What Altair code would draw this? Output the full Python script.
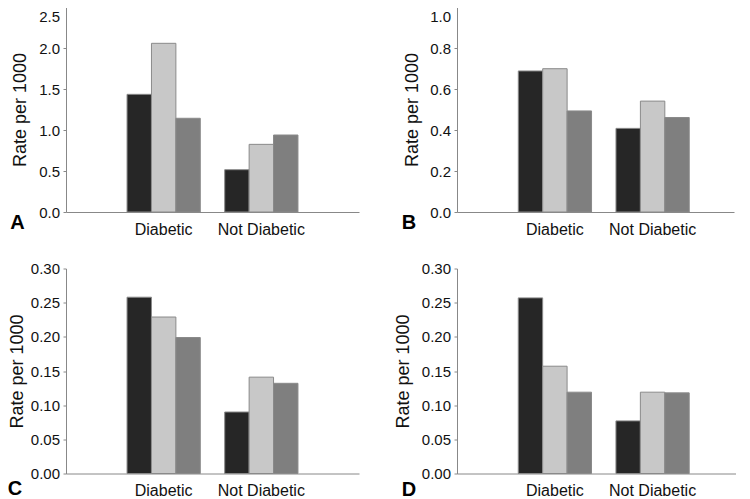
import altair as alt
import pandas as pd

FONT = "Liberation Sans"

categories = ["Diabetic", "Not Diabetic"]
series = ["Series 1", "Series 2", "Series 3"]
colors = ["#262626", "#c8c8c8", "#7f7f7f"]

# Panel A
a_diabetic = [1.435, 2.057, 1.143]
a_not = [0.516, 0.825, 0.939]
a_ticks = [0.0, 0.5, 1.0, 1.5, 2.0, 2.5]
# Panel B
b_diabetic = [0.688, 0.699, 0.493]
b_not = [0.408, 0.541, 0.461]
b_ticks = [0.0, 0.2, 0.4, 0.6, 0.8, 1.0]
# Panel C
c_diabetic = [0.258, 0.229, 0.199]
c_not = [0.090, 0.141, 0.132]
c_ticks = [0.0, 0.05, 0.10, 0.15, 0.20, 0.25, 0.30]
# Panel D
d_diabetic = [0.257, 0.157, 0.119]
d_not = [0.077, 0.119, 0.118]
d_ticks = [0.0, 0.05, 0.10, 0.15, 0.20, 0.25, 0.30]


def panel(letter, diab, notd, ticks, fmt, width, pad_outer, align, title_x,
          letter_x, letter_y, top_flush):
    df = pd.DataFrame({
        "category": [c for c in categories for _ in series],
        "series": series * 2,
        "rate": diab + notd,
    })
    if top_flush:
        test = f"datum.value >= {ticks[-1]}"
        baseline = {"condition": {"test": test, "value": "top"}, "value": "middle"}
        offset = {"condition": {"test": test, "value": 2}, "value": 0}
    else:
        baseline = "middle"
        offset = 0
    bars = alt.Chart(df).mark_bar(stroke="#8a8a8a", strokeWidth=1).encode(
        x=alt.X("category:N", sort=categories,
                scale=alt.Scale(paddingInner=0.25, paddingOuter=pad_outer, align=align),
                axis=alt.Axis(title=None, labelAngle=0, ticks=False, labelPadding=9,
                              labelFontSize=16, labelFont=FONT, labelColor="#111",
                              domainColor="#888888", domainWidth=1)),
        xOffset=alt.XOffset("series:N", sort=series,
                            scale=alt.Scale(paddingInner=0, paddingOuter=0)),
        y=alt.Y("rate:Q", scale=alt.Scale(domain=[ticks[0], ticks[-1]], nice=False),
                axis=alt.Axis(title="Rate per 1000", values=ticks, format=fmt, grid=False,
                              tickSize=3, tickColor="#888888", domainColor="#888888",
                              labelFontSize=15, labelFont=FONT, labelColor="#111",
                              labelPadding=3.5, labelBaseline=baseline, labelOffset=offset,
                              titleFont=FONT, titleFontSize=18,
                              titleFontWeight="normal", titleColor="#111",
                              titleBaseline="alphabetic", titleX=title_x)),
        color=alt.Color("series:N", sort=series,
                        scale=alt.Scale(domain=series, range=colors), legend=None),
    )
    lab = alt.Chart(pd.DataFrame({"t": [letter]})).mark_text(
        fontSize=20, fontWeight="bold", font=FONT, color="#000"
    ).encode(text="t:N", x=alt.value(letter_x), y=alt.value(letter_y))
    return alt.layer(bars, lab).properties(width=width, height=205)


pa = panel("A", a_diabetic, a_not, a_ticks, ".1f", 293, 0.625, 0.5, -40.5, -48.5, 215.5, True)
pb = panel("B", b_diabetic, b_not, b_ticks, ".1f", 277, 0.5426, 0.578, -40, -48, 215.5, True)
pc = panel("C", c_diabetic, c_not, c_ticks, ".2f", 293, 0.625, 0.5, -44, -51, 220.5, False)
pd_ = panel("D", d_diabetic, d_not, d_ticks, ".2f", 279, 0.5529, 0.567, -49, -48, 221, False)

chart = alt.concat(pa, pb, pc, pd_, columns=2, spacing={"row": 24.5, "column": 35}).properties(
    padding={"left": -1, "top": -2, "right": 0, "bottom": 0},
    background="white",
).configure_view(stroke=None)

chart.save("out.html", embed_options={"renderer": "svg", "actions": False})
